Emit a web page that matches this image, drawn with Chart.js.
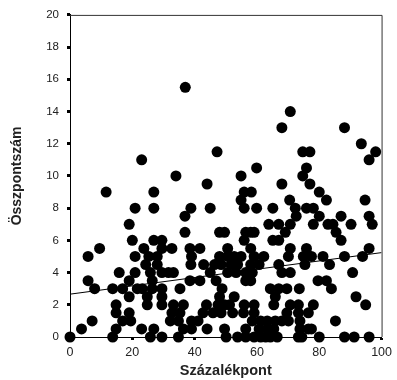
<!DOCTYPE html>
<html>
<head>
<meta charset="utf-8">
<script src="https://cdn.jsdelivr.net/npm/chart.js@4/dist/chart.umd.min.js"></script>
<style>
  html, body { margin: 0; padding: 0; background: #fff; }
  #wrap { width: 397px; height: 380px; }
</style>
</head>
<body>
<div id="wrap"><canvas id="myChart"></canvas></div>
<script>
// Százalékpont (x) és Összpontszám (y), soronként leolvasva
const pointsX = [
    37.0, 70.7, 68.0, 88.1, 93.5,
    47.2, 74.7, 77.0, 98.1,
    23.0, 96.0,
    59.9, 75.9,
    34.0, 54.9, 74.7,
    44.0, 68.0, 77.0,
    11.6, 26.9, 55.9, 58.2, 80.0,
    54.9, 70.5, 82.3, 94.7,
    20.9, 26.9, 38.8, 45.0, 55.9, 59.9, 65.1, 72.3, 75.9, 78.1,
    36.9, 72.6, 80.0, 87.0, 96.0,
    19.0, 63.8, 67.0, 70.7, 78.1, 82.8, 84.4, 90.2, 97.0,
    36.9, 48.0, 49.6, 56.4, 58.0, 59.1, 69.1, 85.4,
    20.0, 26.9, 29.5, 55.9, 65.1, 67.0, 87.0,
    9.5, 23.7, 29.5, 32.7, 38.5, 41.7, 50.6, 58.0, 70.7, 75.9, 96.0,
    5.8, 20.9, 25.3, 28.0, 39.0, 48.0, 50.6, 52.7, 54.9, 59.1, 62.2, 70.1, 74.9, 77.5, 81.2, 88.1, 93.9,
    24.3, 28.0, 38.8, 42.9, 46.4, 48.5, 51.7, 53.8, 58.0, 60.7, 67.0, 75.4, 83.3,
    15.8, 20.9, 25.8, 29.5, 31.6, 33.2, 45.0, 50.6, 53.3, 56.4, 58.5, 68.0, 70.7, 90.7,
    5.8, 19.0, 26.4, 38.5, 41.7, 46.9, 56.4, 58.0, 79.6, 82.3,
    7.9, 13.7, 16.9, 21.6, 23.2, 26.4, 29.5, 35.3, 48.8, 64.3, 67.0, 69.6, 73.6, 83.9,
    19.0, 24.8, 29.5, 48.0, 52.7, 65.9, 91.8,
    14.8, 24.8, 29.5, 33.2, 36.4, 43.8, 47.5, 49.6, 51.2, 55.9, 59.1, 65.4, 70.7, 73.3, 78.1, 94.9,
    14.8, 19.0, 32.7, 35.3, 42.7, 45.9, 48.5, 52.2, 55.7, 59.1, 69.6, 73.3, 76.5,
    7.1, 16.9, 19.5, 32.2, 34.8, 39.0, 41.1, 58.5, 61.2, 63.3, 65.9, 68.0, 70.1, 73.8, 85.2,
    3.7, 14.8, 23.0, 26.9, 36.4, 39.0, 44.0, 49.6, 56.4, 60.7, 63.3, 65.4, 73.8, 76.5, 77.5,
    0.0, 13.7, 25.8, 29.5, 34.8, 50.1, 53.8, 56.4, 59.1, 61.2, 62.8, 64.3, 66.5, 73.3, 74.4, 80.0, 88.1, 91.2, 96.0
];
const pointsY = [
    15.5, 14, 13, 13, 12,
    11.5, 11.5, 11.5, 11.5,
    11, 11,
    10.5, 10.5,
    10, 10, 10,
    9.5, 9.5, 9.5,
    9, 9, 9, 9, 9,
    8.5, 8.5, 8.5, 8.5,
    8, 8, 8, 8, 8, 8, 8, 8, 8, 8,
    7.5, 7.5, 7.5, 7.5, 7.5,
    7, 7, 7, 7, 7, 7, 7, 7, 7,
    6.5, 6.5, 6.5, 6.5, 6.5, 6.5, 6.5, 6.5,
    6, 6, 6, 6, 6, 6, 6,
    5.5, 5.5, 5.5, 5.5, 5.5, 5.5, 5.5, 5.5, 5.5, 5.5, 5.5,
    5, 5, 5, 5, 5, 5, 5, 5, 5, 5, 5, 5, 5, 5, 5, 5, 5,
    4.5, 4.5, 4.5, 4.5, 4.5, 4.5, 4.5, 4.5, 4.5, 4.5, 4.5, 4.5, 4.5,
    4, 4, 4, 4, 4, 4, 4, 4, 4, 4, 4, 4, 4, 4,
    3.5, 3.5, 3.5, 3.5, 3.5, 3.5, 3.5, 3.5, 3.5, 3.5,
    3, 3, 3, 3, 3, 3, 3, 3, 3, 3, 3, 3, 3, 3,
    2.5, 2.5, 2.5, 2.5, 2.5, 2.5, 2.5,
    2, 2, 2, 2, 2, 2, 2, 2, 2, 2, 2, 2, 2, 2, 2, 2,
    1.5, 1.5, 1.5, 1.5, 1.5, 1.5, 1.5, 1.5, 1.5, 1.5, 1.5, 1.5, 1.5,
    1, 1, 1, 1, 1, 1, 1, 1, 1, 1, 1, 1, 1, 1, 1,
    0.5, 0.5, 0.5, 0.5, 0.5, 0.5, 0.5, 0.5, 0.5, 0.5, 0.5, 0.5, 0.5, 0.5, 0.5,
    0, 0, 0, 0, 0, 0, 0, 0, 0, 0, 0, 0, 0, 0, 0, 0, 0, 0, 0
];
// regressziós egyenes végpontjai
const trendX = [0, 100];
const trendY = [2.66, 5.24];

const xTicks = [0, 20, 40, 60, 80, 100];
const yTicks = [0, 2, 4, 6, 8, 10, 12, 14, 16, 18, 20];

//
const framePlugin = {
    id: 'frame',
    afterDraw(chart) {
        const { ctx, chartArea: { top, bottom, left, right } } = chart;
        ctx.save();
        ctx.strokeStyle = '#333';
        ctx.lineWidth = 1;
        ctx.beginPath();
        ctx.moveTo(left, top + 0.5);
        ctx.lineTo(right + 0.5, top + 0.5);
        ctx.lineTo(right + 0.5, bottom);
        ctx.stroke();
        ctx.restore();
    }
};

const tickGrid = {
    display: true,
    drawOnChartArea: false,
    drawTicks: true,
    tickLength: 3,
    tickWidth: 3,
    tickColor: '#000',
};

new Chart(document.getElementById('myChart'), {
    type: 'scatter',
    data: {
        datasets: [
            {
                label: 'Összpontszám',
                data: pointsX.map((x, i) => ({ x: x, y: pointsY[i] })),
                backgroundColor: '#000',
                borderWidth: 0,
                pointRadius: 5.5,
                pointHoverRadius: 5.5,
                clip: false,
                order: 2,
            },
            {
                type: 'line',
                label: 'trend',
                data: trendX.map((x, i) => ({ x: x, y: trendY[i] })),
                borderColor: '#000',
                borderWidth: 1,
                pointRadius: 0,
                fill: false,
                order: 1,
            }
        ]
    },
    options: {
        responsive: true,
        maintainAspectRatio: false,
        animation: false,
        layout: { padding: { top: 14, right: 11, left: 0, bottom: 0 } },
        scales: {
            x: {
                type: 'linear',
                min: 0,
                max: 100,
                afterBuildTicks: (scale) => { scale.ticks = xTicks.map((v) => ({ value: v })); },
                afterFit: (scale) => { scale.height = 43; },
                grid: tickGrid,
                border: { display: true, color: '#000', width: 1 },
                ticks: {
                    padding: 5,
                    color: '#222',
                    font: { family: 'Liberation Sans', size: 12.5 },
                    maxRotation: 0,
                },
                title: {
                    display: true,
                    text: 'Százalékpont',
                    color: '#222',
                    font: { family: 'Liberation Sans', size: 14.5, weight: 'bold' },
                    padding: { top: 0, bottom: 0 },
                }
            },
            y: {
                type: 'linear',
                min: 0,
                max: 20,
                afterBuildTicks: (scale) => { scale.ticks = yTicks.map((v) => ({ value: v })); },
                afterFit: (scale) => { scale.width = 70; },
                grid: tickGrid,
                border: { display: true, color: '#000', width: 1 },
                ticks: {
                    padding: 8,
                    color: '#222',
                    font: { family: 'Liberation Sans', size: 11.5 },
                },
                title: {
                    display: true,
                    text: 'Összpontszám',
                    color: '#222',
                    font: { family: 'Liberation Sans', size: 14, weight: 'bold' },
                    padding: { top: 9, bottom: 0 },
                }
            }
        },
        plugins: {
            legend: { display: false },
            tooltip: { enabled: false },
        }
    },
    plugins: [framePlugin]
});
</script>
</body>
</html>
